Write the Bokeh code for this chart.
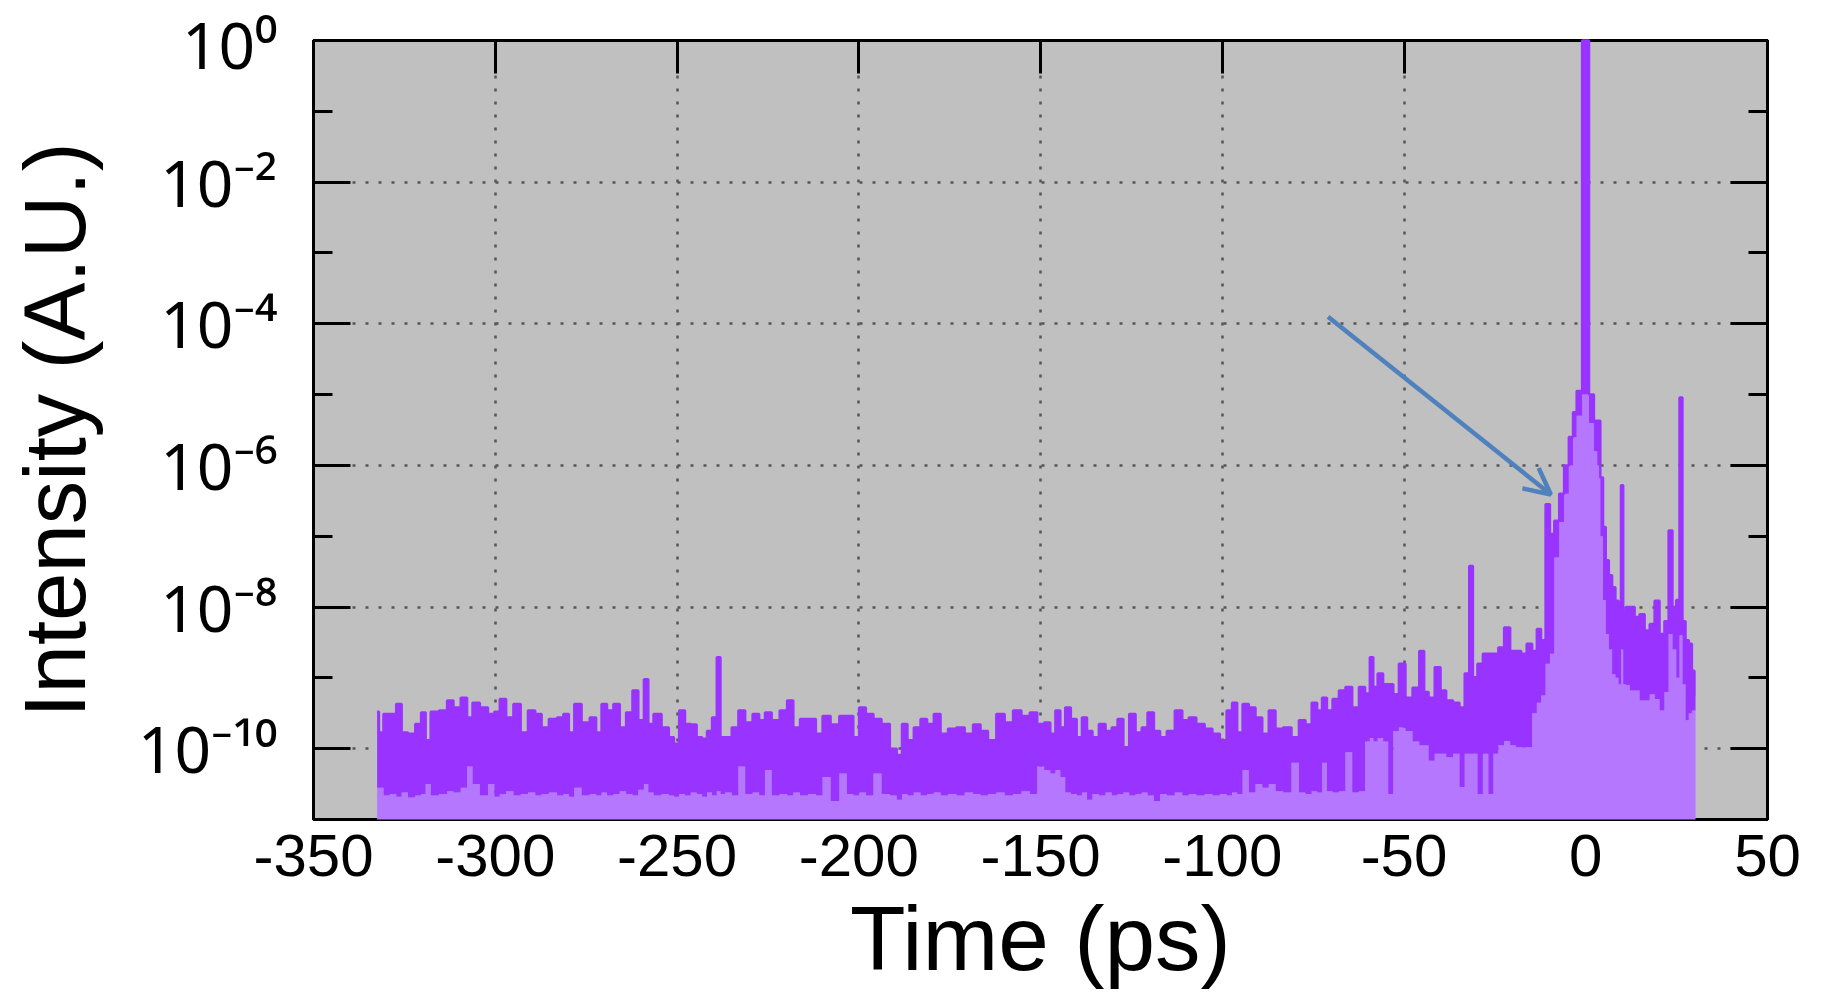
import math
from bokeh.plotting import figure
from bokeh.models import (FixedTicker, LinearAxis, LogAxis, Arrow, OpenHead,
                          Range1d, ColumnDataSource)
from bokeh.embed import file_html
from bokeh.resources import INLINE

# ---------------- data ----------------
# time (ps), upper and lower edge of the trace (log10 of intensity)
t_ps = [
    -332.5, -331.5, -330.0, -328.0, -326.5, -325.0, -323.0, -321.0, -319.8, -318.5,
    -317.0, -314.0, -312.5, -310.5, -308.5, -307.0, -305.5, -303.0, -301.0, -299.5,
    -298.0, -296.0, -294.0, -292.0, -290.0, -288.0, -286.5, -284.0, -282.0, -280.5,
    -279.0, -277.5, -275.0, -273.0, -271.5, -270.0, -268.5, -266.5, -265.0, -263.0,
    -261.5, -259.8, -258.4, -257.4, -255.5, -253.0, -251.5, -250.2, -248.6,
    -247.0, -245.4, -243.8, -242.4, -241.1, -239.6, -238.5, -237.6, -236.0, -233.9,
    -232.3, -230.2, -228.2, -226.6, -225.0, -222.9, -220.6, -218.8, -217.2, -215.1,
    -212.8, -210.8, -209.1, -206.4, -204.3, -202.3, -200.7, -199.1, -197.0, -194.9,
    -192.6, -190.3, -188.8, -187.4, -185.8, -183.9, -182.1, -180.3, -178.4, -176.6,
    -174.3, -172.0, -169.7, -167.4, -165.6, -163.3, -161.0, -158.7, -156.4, -154.1,
    -151.8, -150.0,
    -148.0, -146.6, -145.2, -143.9, -142.5, -140.8, -139.3, -137.9, -136.5, -134.9,
    -133.0, -131.2, -129.6, -128.0, -126.4, -124.8, -122.9, -121.4, -119.7, -117.9,
    -116.3, -114.2, -111.9, -110.1, -108.3, -106.0, -103.7, -101.7, -99.6, -98.0,
    -96.6, -95.2, -93.6, -91.8, -89.9, -88.1, -86.3, -84.4, -82.1, -79.8,
    -78.0, -76.2, -74.6, -73.2, -71.9, -70.5, -68.8, -67.0, -65.2, -63.3,
    -61.5, -59.9, -58.9, -58.0, -56.5, -55.0, -53.7, -52.2, -50.6, -48.6,
    -46.7, -44.9, -44.0, -42.5, -40.6, -39.3, -37.5, -35.5, -34.0, -32.6,
    -31.5, -30.6, -29.0, -27.6, -26.0, -24.8, -23.3, -21.6, -20.0, -18.5,
    -17.0, -15.5, -14.0, -12.9, -11.7, -10.4, -9.3, -8.0, -6.6, -5.3,
    -4.0, -3.0, -2.0, 0.0, 1.8, 2.7, 3.6, 4.4, 5.1, 5.9,
    6.8, 7.7, 8.6, 9.4, 10.0, 10.6, 11.4, 12.8, 14.1, 15.5,
    16.9, 18.3, 19.6, 21.0, 22.3, 23.3, 24.4, 25.4, 26.2, 27.0,
    27.9, 28.8, 29.6, 30.2,
]
upper_log10 = [
    -9.48, -9.77, -9.51, -9.51, -9.37, -9.77, -9.79, -9.65, -9.49, -9.88,
    -9.48, -9.46, -9.32, -9.42, -9.28, -9.56, -9.35, -9.42, -9.51, -9.48,
    -9.30, -9.56, -9.37, -9.77, -9.46, -9.51, -9.70, -9.58, -9.56, -9.51,
    -9.77, -9.37, -9.63, -9.56, -9.77, -9.37, -9.46, -9.37, -9.70, -9.49,
    -9.18, -9.60, -9.02, -9.65, -9.51, -9.70, -9.84, -9.93, -9.46,
    -9.65, -9.66, -9.84, -9.86, -9.75, -9.56, -8.71, -9.84, -9.84, -9.70,
    -9.46, -9.63, -9.51, -9.60, -9.49, -9.60, -9.46, -9.32, -9.70, -9.58,
    -9.58, -9.79, -9.54, -9.66, -9.54, -9.54, -9.84, -9.42, -9.51, -9.58,
    -9.65, -10.00, -10.09, -9.65, -9.88, -9.70, -9.58, -9.65, -9.51, -9.79,
    -9.72, -9.70, -9.79, -9.66, -9.75, -9.88, -9.51, -9.63, -9.46, -9.54,
    -9.49, -9.65,
    -9.63, -9.79, -9.46, -9.70, -9.42, -9.58, -9.84, -9.56, -9.75, -9.84,
    -9.65, -9.75, -9.70, -9.58, -9.98, -9.51, -9.77, -9.70, -9.49, -9.75,
    -9.84, -9.75, -9.46, -9.60, -9.56, -9.65, -9.72, -9.79, -9.88, -9.46,
    -9.35, -9.77, -9.37, -9.42, -9.56, -9.79, -9.46, -9.72, -9.70, -9.84,
    -9.60, -9.66, -9.35, -9.46, -9.28, -9.46, -9.30, -9.18, -9.13, -9.42,
    -9.13, -9.22, -8.71, -9.13, -8.94, -9.09, -9.09, -9.23, -8.80, -9.28,
    -9.14, -8.62, -9.20, -9.28, -8.85, -9.18, -9.32, -9.35, -9.42, -8.94,
    -7.42, -8.99, -8.80, -8.66, -8.66, -8.66, -8.57, -8.29, -8.62, -8.62,
    -8.66, -8.52, -8.62, -8.31, -8.47, -6.55, -6.97, -6.78, -6.40, -6.00,
    -5.60, -5.25, -4.95, 0.00, -5.00, -5.37, -5.37, -6.17, -6.87, -7.34,
    -7.55, -7.72, -7.91, -8.00, -6.28, -8.10, -8.00, -8.00, -8.14, -8.10,
    -8.33, -8.24, -7.91, -8.38, -8.20, -6.92, -8.00, -7.90, -5.04, -8.20,
    -8.47, -8.52, -8.90, -9.23,
]
lower_log10 = [
    -10.55, -10.55, -10.66, -10.64, -10.68, -10.62, -10.69, -10.66, -10.64, -10.50,
    -10.66, -10.64, -10.60, -10.62, -10.55, -10.25, -10.50, -10.66, -10.50, -10.68,
    -10.64, -10.60, -10.66, -10.64, -10.62, -10.66, -10.64, -10.62, -10.66, -10.64,
    -10.68, -10.55, -10.66, -10.64, -10.66, -10.62, -10.66, -10.64, -10.60, -10.64,
    -10.66, -10.58, -10.50, -10.62, -10.66, -10.64, -10.66, -10.68, -10.64,
    -10.66, -10.62, -10.64, -10.68, -10.62, -10.66, -10.60, -10.64, -10.62, -10.66,
    -10.25, -10.64, -10.62, -10.66, -10.30, -10.66, -10.64, -10.66, -10.62, -10.66,
    -10.64, -10.66, -10.40, -10.74, -10.35, -10.64, -10.66, -10.62, -10.66, -10.35,
    -10.64, -10.66, -10.72, -10.64, -10.66, -10.62, -10.66, -10.64, -10.62, -10.66,
    -10.64, -10.66, -10.62, -10.64, -10.66, -10.64, -10.62, -10.66, -10.64, -10.60,
    -10.64, -10.25,
    -10.30, -10.35, -10.30, -10.40, -10.62, -10.64, -10.66, -10.62, -10.72, -10.64,
    -10.66, -10.62, -10.66, -10.64, -10.62, -10.66, -10.64, -10.62, -10.66, -10.74,
    -10.64, -10.66, -10.62, -10.66, -10.64, -10.66, -10.64, -10.66, -10.64, -10.66,
    -10.62, -10.64, -10.30, -10.62, -10.50, -10.55, -10.50, -10.60, -10.62, -10.20,
    -10.62, -10.64, -10.60, -10.62, -10.20, -10.60, -10.62, -10.60, -10.05, -10.62,
    -10.60, -9.90, -9.85, -9.90, -9.85, -9.90, -10.64, -9.75, -9.70, -9.75,
    -9.90, -9.95, -9.95, -10.17, -10.07, -10.07, -10.12, -10.07, -10.54, -10.07,
    -10.07, -10.07, -10.64, -10.07, -10.64, -10.07, -9.95, -9.89, -9.95, -9.98,
    -9.98, -9.98, -9.50, -9.35, -9.25, -8.80, -8.66, -7.30, -6.80, -6.40,
    -6.00, -5.60, -5.30, -5.00, -5.40, -5.80, -6.00, -7.00, -7.90, -8.38,
    -8.60, -8.95, -9.00, -9.09, -8.60, -9.09, -9.10, -9.18, -9.18, -9.32,
    -9.32, -9.23, -9.30, -9.46, -9.20, -8.38, -8.60, -9.00, -8.40, -9.09,
    -9.60, -9.50, -9.46, -9.46,
]

x_ticks = [-350, -300, -250, -200, -150, -100, -50, 0, 50]
x_tick_labels = ["-350", "-300", "-250", "-200", "-150", "-100", "-50", "0", "50"]
y_major_exponents = [0, -2, -4, -6, -8, -10]
y_minor_exponents = [-1, -3, -5, -7, -9]
x_title = "Time (ps)"
y_title = "Intensity (A.U.)"
arrow_tail = (-70.9, -3.90)   # (ps, log10 intensity)
arrow_tip = (-9.6, -6.41)

# ---------------- styling ----------------
DARK = "#9933FF"
LIGHT = "#B677FF"
BG = "#C0C0C0"
GRID = "#555555"
ARROW = "#4F81BD"
SANS = "Liberation Sans"

X0, X1 = -350, 50
Y0, Y1 = 1e-11, 1.0

SUP = str.maketrans("-0123456789", "⁻⁰¹²³⁴⁵⁶⁷⁸⁹")

W, H = 1816, 994
p = figure(width=W, height=H, output_backend="svg", toolbar_location=None,
           y_axis_type="log", x_range=Range1d(X0, X1), y_range=Range1d(Y0, Y1),
           min_border_left=313, min_border_right=W - 1767, min_border_top=40,
           min_border_bottom=H - 819)
p.background_fill_color = BG
p.border_fill_color = "white"
p.outline_line_color = "black"
p.outline_line_width = 3

y_major = [10.0 ** e for e in y_major_exponents]
y_minor = [10.0 ** e for e in y_minor_exponents]

# grid
p.xgrid.ticker = FixedTicker(ticks=x_ticks)
p.ygrid.ticker = FixedTicker(ticks=y_major)
for g in (p.xgrid, p.ygrid):
    g.grid_line_color = GRID
    g.grid_line_dash = "3 10"
    g.grid_line_width = 2.5

# bottom axis
xa = p.xaxis[0]
xa.ticker = FixedTicker(ticks=x_ticks)
xa.major_label_overrides = dict(zip(x_ticks, x_tick_labels))
xa.major_tick_line_color = None
xa.minor_tick_line_color = None
xa.axis_line_color = "black"
xa.axis_line_width = 3
xa.major_label_text_font = SANS
xa.major_label_text_font_size = "60px"
xa.major_label_text_color = "black"
xa.major_label_standoff = 9
xa.axis_label = x_title
xa.axis_label_text_font = SANS
xa.axis_label_text_font_size = "91px"
xa.axis_label_text_font_style = "normal"
xa.axis_label_text_color = "black"
xa.axis_label_standoff = 9

# left axis
ya = p.yaxis[0]
ya.ticker = FixedTicker(ticks=y_major, minor_ticks=y_minor)
ya.major_label_overrides = {10.0 ** e: "10" + str(e).translate(SUP) for e in y_major_exponents}
ya.major_tick_in = 37
ya.major_tick_out = 0
ya.minor_tick_in = 19
ya.minor_tick_out = 0
ya.major_tick_line_width = 3
ya.minor_tick_line_width = 3
ya.major_tick_line_color = "black"
ya.minor_tick_line_color = "black"
ya.axis_line_width = 3
ya.major_label_text_font = "Noto Sans"
ya.major_label_text_font_size = "64px"
ya.major_label_text_color = "black"
ya.major_label_standoff = 36
ya.axis_label = y_title
ya.axis_label_text_font = SANS
ya.axis_label_text_font_size = "87px"
ya.axis_label_text_font_style = "normal"
ya.axis_label_text_color = "black"
ya.axis_label_standoff = 32

# mirrored axes (ticks only)
top = LinearAxis(ticker=FixedTicker(ticks=x_ticks), major_tick_in=33, major_tick_out=0,
                 minor_tick_line_color=None, major_tick_line_width=3,
                 axis_line_width=3, major_label_text_font_size="1px",
                 major_label_overrides={v: "" for v in x_ticks})
p.add_layout(top, "above")
right = LogAxis(ticker=FixedTicker(ticks=y_major, minor_ticks=y_minor),
                major_tick_in=37, major_tick_out=0, minor_tick_in=19, minor_tick_out=0,
                major_tick_line_width=3, minor_tick_line_width=3, axis_line_width=3,
                major_label_text_font_size="1px",
                major_label_overrides={v: "" for v in y_major})
p.add_layout(right, "right")

# data
src = ColumnDataSource(dict(
    t=t_ps,
    up=[10.0 ** v for v in upper_log10],
    lo=[10.0 ** v for v in lower_log10],
))
r1 = p.varea_step(x="t", y1=Y0, y2="lo", step_mode="center", source=src,
                  fill_color=LIGHT, fill_alpha=1.0)
r2 = p.varea_step(x="t", y1="lo", y2="up", step_mode="center", source=src,
                  fill_color=DARK, fill_alpha=1.0)
r3 = p.step(x="t", y="up", mode="center", source=src, line_color=DARK, line_width=2.5)
for r in (r1, r2, r3):
    r.level = "overlay"

# arrow
p.add_layout(Arrow(end=OpenHead(size=26, line_color=ARROW, line_width=4.5),
                   x_start=arrow_tail[0], y_start=10.0 ** arrow_tail[1],
                   x_end=arrow_tip[0], y_end=10.0 ** arrow_tip[1],
                   line_color=ARROW, line_width=4.5, level="overlay"))

open("out.html", "w").write(file_html(p, INLINE))
